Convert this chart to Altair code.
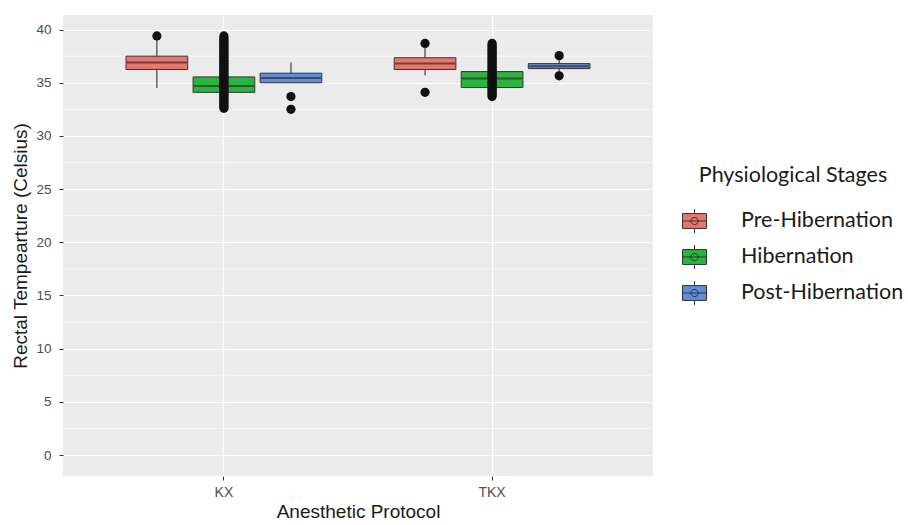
import altair as alt
import pandas as pd

# Box summaries per anesthetic protocol and physiological stage
protocols = ["KX", "KX", "KX", "TKX", "TKX", "TKX"]
stages = ["Pre-Hibernation", "Hibernation", "Post-Hibernation"] * 2
whisker_low = [34.5, 32.6, 35.0, 35.7, 33.7, 36.0]
q1 = [36.25, 34.1, 35.0, 36.25, 34.55, 36.33]
median = [36.9, 34.7, 35.45, 36.8, 35.4, 36.55]
q3 = [37.5, 35.55, 35.9, 37.35, 36.05, 36.8]
whisker_high = [39.1, 37.6, 36.9, 38.3, 37.5, 37.25]

# Individual points drawn over the boxes
kx_pre_points = [39.4]
kx_hib_points = [32.6, 32.75, 32.9, 33.05, 33.2, 33.35, 33.5, 33.65, 33.8, 33.95,
                 34.1, 34.25, 34.4, 34.55, 34.7, 34.85, 35.0, 35.15, 35.3, 35.45,
                 35.6, 35.75, 35.9, 36.05, 36.2, 36.35, 36.5, 36.65, 36.8, 36.95,
                 37.1, 37.25, 37.4, 37.55, 37.7, 37.85, 38.0, 38.15, 38.3, 38.45,
                 38.6, 38.75, 38.9, 39.05, 39.2, 39.4]
kx_post_points = [33.7, 32.5]
tkx_pre_points = [38.7, 34.1]
tkx_hib_points = [33.7, 33.85, 34.0, 34.15, 34.3, 34.45, 34.6, 34.75, 34.9, 35.05,
                  35.2, 35.35, 35.5, 35.65, 35.8, 35.95, 36.1, 36.25, 36.4, 36.55,
                  36.7, 36.85, 37.0, 37.15, 37.3, 37.45, 37.6, 37.75, 37.9, 38.05,
                  38.2, 38.35, 38.5, 38.7]
tkx_post_points = [37.55, 35.65]

stage_order = ["Pre-Hibernation", "Hibernation", "Post-Hibernation"]
stage_colors = ["#E8766E", "#28B43F", "#5E8EDB"]

boxes = pd.DataFrame({
    "protocol": protocols, "stage": stages,
    "lo": whisker_low, "q1": q1, "med": median, "q3": q3, "hi": whisker_high,
})

point_groups = [
    ("KX", "Pre-Hibernation", kx_pre_points),
    ("KX", "Hibernation", kx_hib_points),
    ("KX", "Post-Hibernation", kx_post_points),
    ("TKX", "Pre-Hibernation", tkx_pre_points),
    ("TKX", "Hibernation", tkx_hib_points),
    ("TKX", "Post-Hibernation", tkx_post_points),
]
points = pd.DataFrame(
    [{"protocol": p, "stage": s, "temp": t} for p, s, vals in point_groups for t in vals]
)

minor_grid = pd.DataFrame({"v": [2.5, 7.5, 12.5, 17.5, 22.5, 27.5, 32.5, 37.5]})

base_font = "Liberation Sans"

x_enc = alt.X(
    "protocol:N",
    title="Anesthetic Protocol",
    scale=alt.Scale(domain=["KX", "TKX"], paddingInner=0.25, paddingOuter=0.225),
    axis=alt.Axis(
        labelAngle=0, grid=True, gridColor="white", gridWidth=1.2,
        bandPosition=0.5, domain=False, tickColor="#333333", tickSize=4,
        labelColor="#4d4d4d", labelFontSize=14, labelFont=base_font, labelPadding=5,
        titleFont=base_font, titleFontSize=19, titleFontWeight="normal",
        titleColor="#1a1a1a", titlePadding=3,
    ),
)
xoff_enc = alt.XOffset(
    "stage:N",
    scale=alt.Scale(domain=stage_order, paddingInner=0.08, paddingOuter=0.04),
)
y_scale = alt.Scale(domain=[-1.97, 41.37], nice=False, zero=False)
y_axis = alt.Axis(
    values=[0, 5, 10, 15, 20, 25, 30, 35, 40], grid=True, gridColor="white",
    gridWidth=1.2, domain=False, tickColor="#333333", tickSize=4,
    labelColor="#4d4d4d", labelFontSize=13.5, labelFont=base_font, labelPadding=8,
    titleFont=base_font, titleFontSize=19, titleFontWeight="normal",
    titleColor="#1a1a1a", titlePadding=5,
)

# Boxplot glyph for the legend: box, median bar, whiskers and a centre dot
legend_symbol = (
    "M-1,-0.62 H1 V0.62 H-1 Z M-1,0 H1 M0,-0.62 V-1 M0,0.62 V1 "
    "M-0.3,0 A0.3,0.3 0 1,1 0.3,0 A0.3,0.3 0 1,1 -0.3,0 Z"
)

minor = alt.Chart(minor_grid).mark_rule(color="white", strokeWidth=0.6).encode(
    y=alt.Y("v:Q", scale=y_scale, axis=y_axis, title="Rectal Tempearture (Celsius)")
)

whiskers = alt.Chart(boxes).mark_rule(color="#333333", strokeWidth=1.1).encode(
    x=x_enc, xOffset=xoff_enc,
    y=alt.Y("lo:Q", scale=y_scale),
    y2="hi:Q",
)

box = alt.Chart(boxes).mark_bar(stroke="#333333", strokeWidth=1, opacity=1).encode(
    x=x_enc, xOffset=xoff_enc,
    y=alt.Y("q1:Q", scale=y_scale),
    y2="q3:Q",
    color=alt.Color(
        "stage:N",
        scale=alt.Scale(domain=stage_order, range=stage_colors),
        legend=alt.Legend(
            title="Physiological Stages", orient="none", legendX=619, legendY=150,
            titleFont="Lato", titleFontSize=21.5, titleFontWeight="normal",
            titleColor="#1a1a1a", titleAnchor="middle", titlePadding=22,
            titleLimit=400, labelLimit=400,
            labelFont="Lato", labelFontSize=21.5, labelColor="#1a1a1a",
            labelOffset=34, symbolType=legend_symbol, symbolSize=576,
            symbolStrokeColor="#333333", symbolStrokeWidth=1,
            rowPadding=7, padding=0,
        ),
    ),
)

med = alt.Chart(boxes).mark_tick(color="#3a2a2a", thickness=2, size=60).encode(
    x=x_enc, xOffset=xoff_enc,
    y=alt.Y("med:Q", scale=y_scale),
)

dots = alt.Chart(points).mark_circle(color="#111111", size=85, opacity=1).encode(
    x=x_enc, xOffset=xoff_enc,
    y=alt.Y("temp:Q", scale=y_scale),
)

chart = (
    alt.layer(minor, whiskers, box, med, dots)
    .properties(
        width=590, height=461,
        autosize=alt.AutoSizeParams(type="none"),
        padding={"left": 63, "top": 15, "right": 255, "bottom": 49},
        background="white",
    )
    .configure_view(fill="#EBEBEB", stroke=None)
)

chart.save("out.html", embed_options={"renderer": "svg", "actions": False})
